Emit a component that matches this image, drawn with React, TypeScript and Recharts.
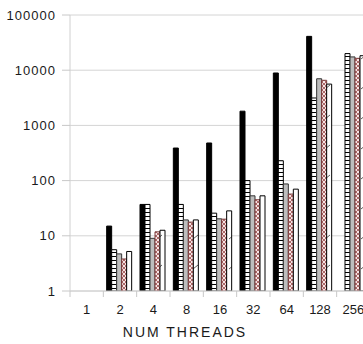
import React from 'react';
import { BarChart, Bar, XAxis, YAxis, CartesianGrid } from 'recharts';

const categories = ['1', '2', '4', '8', '16', '32', '64', '128', '256'];
const seriesBlack = [null, 15, 37, 389, 480, 1810, 8900, 41000, null];
const seriesStripe = [null, 5.6, 37, 37, 25.7, 100, 229, 3140, 20000];
const seriesGray = [null, 4.7, 9.0, 19.4, 20.3, 53, 87, 7000, 17400];
const seriesCross = [null, 3.8, 11.8, 17.7, 20, 45, 57, 6560, 16400];
const seriesWhite = [null, 5.2, 12.6, 19.4, 28.3, 53, 70, 5600, 18300];
const yTicks = [1, 10, 100, 1000, 10000, 100000];
const xTitle = 'NUM THREADS';

const data = categories.map((c, i) => ({
  threads: c,
  black: seriesBlack[i],
  stripe: seriesStripe[i],
  gray: seriesGray[i],
  cross: seriesCross[i],
  white: seriesWhite[i],
}));

const CHART_W = 375;
const CHART_H = 344;
const MARGIN = { top: 15, right: 5, bottom: 0, left: 0 };
const YAXIS_W = 70;
const XAXIS_H = 53;
const TICK_SIZE = 6;
const TICK_MARGIN = 8;
const HALF_BAND = (CHART_W - MARGIN.left - MARGIN.right - YAXIS_W) / categories.length / 2;
const FONT = '"Liberation Sans", Arial, sans-serif';

const XTick = (props: any) => {
  const { x, y, payload } = props;
  const axisY = y - TICK_SIZE - TICK_MARGIN;
  return (
    <g>
      <line x1={x - HALF_BAND} x2={x - HALF_BAND} y1={axisY} y2={axisY + TICK_SIZE} stroke="#c8c8c8" strokeWidth={1} />
      <text x={x} y={y} dy="0.71em" textAnchor="middle" fontSize={13} fontFamily={FONT} fill="#1a1a1a">
        {payload.value}
      </text>
    </g>
  );
};

const YTick = (props: any) => {
  const { x, y, payload } = props;
  return (
    <text x={x} y={y} dy="0.355em" textAnchor="end" fontSize={13} fontFamily={FONT} fill="#1a1a1a" letterSpacing={1}>
      {payload.value}
    </text>
  );
};

const TitleLabel = (props: any) => {
  const vb = props.viewBox || { x: 0, width: 0 };
  return (
    <text x={vb.x + vb.width / 2 - 35} y={337} textAnchor="middle" fontSize={14} fontFamily={FONT} fill="#1a1a1a" letterSpacing={2}>
      {xTitle}
    </text>
  );
};

export default function App() {
  return (
    <div style={{ position: 'fixed', left: 0, top: 0, width: 363, height: 344, overflow: 'hidden', background: '#fff' }}>
      <BarChart width={CHART_W} height={CHART_H} data={data} margin={MARGIN} barCategoryGap="10%" barGap={0}>
        <defs>
          <pattern id="stripe" width="4" height="4" patternUnits="userSpaceOnUse">
            <rect width="4" height="4" fill="#fff" />
            <line x1="0" y1="0.5" x2="4" y2="0.5" stroke="#000" strokeWidth={1} />
          </pattern>
          <pattern id="cross" width="4" height="4" patternUnits="userSpaceOnUse">
            <rect width="4" height="4" fill="#f6e4e4" />
            <path d="M0,0 L4,4 M4,0 L0,4" stroke="#9a4a4a" strokeWidth={0.8} />
          </pattern>
          <pattern id="diag" width="12" height="30" patternUnits="userSpaceOnUse">
            <rect width="12" height="30" fill="#fff" />
            <line x1="1" y1="29" x2="6" y2="25" stroke="#333" strokeWidth={0.8} />
          </pattern>
        </defs>
        <CartesianGrid horizontal vertical={false} stroke="#d4d4d4" />
        <XAxis
          dataKey="threads"
          height={XAXIS_H}
          tick={<XTick />}
          tickLine={false}
          tickSize={TICK_SIZE}
          tickMargin={TICK_MARGIN}
          axisLine={{ stroke: '#d0d0d0' }}
          interval={0}
          label={{ content: <TitleLabel /> }}
        />
        <YAxis
          scale="log"
          type="number"
          domain={[1, 100000]}
          ticks={yTicks}
          allowDataOverflow
          width={YAXIS_W}
          tick={<YTick />}
          tickSize={8}
          tickMargin={6}
          tickLine={{ stroke: '#c8c8c8' }}
          axisLine={{ stroke: '#d0d0d0' }}
          interval={0}
        />
        <Bar dataKey="black" fill="#000" stroke="#000" strokeWidth={1} isAnimationActive={false} />
        <Bar dataKey="stripe" fill="url(#stripe)" stroke="#000" strokeWidth={1} isAnimationActive={false} />
        <Bar dataKey="gray" fill="#bdbdbd" stroke="#333" strokeWidth={1} isAnimationActive={false} />
        <Bar dataKey="cross" fill="url(#cross)" stroke="#7a3a3a" strokeWidth={1} isAnimationActive={false} />
        <Bar dataKey="white" fill="url(#diag)" stroke="#000" strokeWidth={1} isAnimationActive={false} />
      </BarChart>
    </div>
  );
}
